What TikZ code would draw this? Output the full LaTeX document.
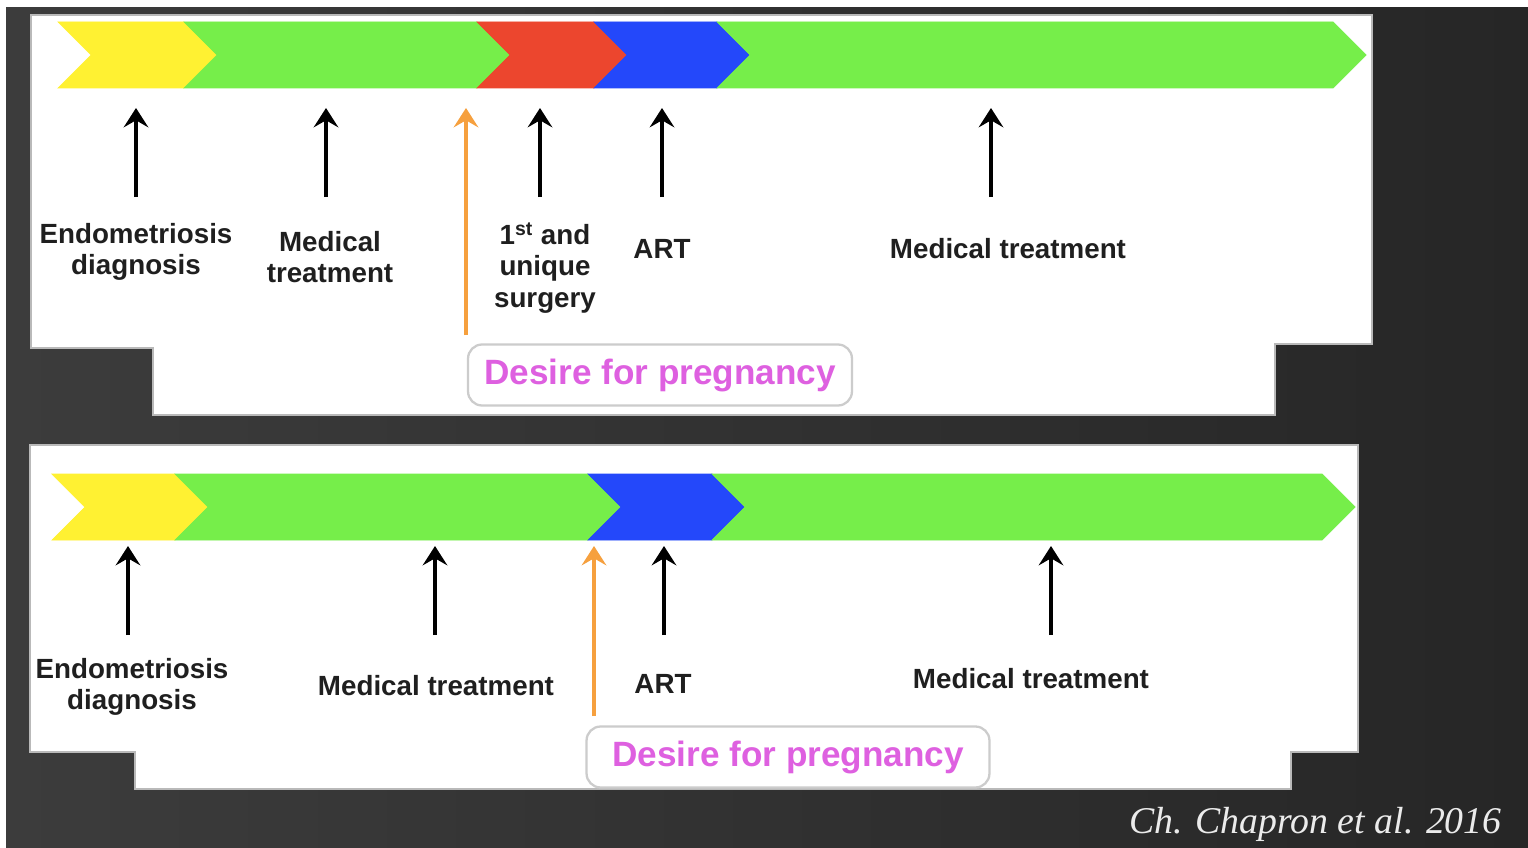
\documentclass[tikz,border=0pt]{standalone}
\usepackage{fontspec}
\setmainfont{Liberation Sans}
\newfontfamily\citefont{Liberation Serif}
\usetikzlibrary{arrows.meta,positioning}

\definecolor{barYellow}{RGB}{255,241,50}
\definecolor{barGreen}{RGB}{118,238,74}
\definecolor{barRed}{RGB}{236,70,46}
\definecolor{barBlue}{RGB}{36,72,250}
\definecolor{wishOrange}{RGB}{246,160,62}
\definecolor{wishPink}{RGB}{222,96,224}
\definecolor{slideDark}{RGB}{60,60,60}
\definecolor{slideDarker}{RGB}{38,38,38}

% one chevron of the timeline: colour, left x, right x (top corner), middle y
\newcommand{\chevron}[4]{%
  \fill[#1, draw=#1, line width=0.4pt] (#2,#4-33) -- (#3,#4-33) -- (#3+33,#4) -- (#3,#4+33)
    -- (#2,#4+33) -- (#2+33,#4) -- cycle;}

\begin{document}
\begin{tikzpicture}[
  x=0.02cm, y=-0.02cm,
  panel/.style={fill=white, draw=gray!55, line width=0.8pt},
  stage/.style={font=\fontsize{15.8}{18}\selectfont\bfseries, text=black!88, align=center, inner sep=0pt},
  marker/.style={line width=2.2pt, -{Stealth[length=11pt, width=14pt, inset=4pt]}},
  wish/.style={draw=gray!40, line width=1.3pt, rounded corners=8pt, fill=white, text=wishPink,
    font=\fontsize{20}{24}\selectfont\bfseries, minimum width=7.68cm, minimum height=1.22cm}
]
\useasboundingbox (0,0) rectangle (1528,848);
\fill[white] (0,0) rectangle (1528,848);

% Slide background
\shade[left color=slideDark, right color=slideDarker] (6,8) rectangle (1528,848);

% White panels
\draw[panel] (31,15) -- (1372,15) -- (1372,344) -- (1275,344) -- (1275,415)
  -- (153,415) -- (153,348) -- (31,348) -- cycle;
\draw[panel] (30,445) -- (1358,445) -- (1358,752) -- (1291,752) -- (1291,789)
  -- (135,789) -- (135,752) -- (30,752) -- cycle;

% Upper timeline
\chevron{barYellow}{58}{184}{55}
\chevron{barGreen}{184}{477}{55}
\chevron{barRed}{477}{594}{55}
\chevron{barBlue}{594}{717}{55}
\chevron{barGreen}{717}{1333}{55}

% Lower timeline
\chevron{barYellow}{52}{175}{507}
\chevron{barGreen}{175}{588}{507}
\chevron{barBlue}{588}{712}{507}
\chevron{barGreen}{712}{1322}{507}

% Upper labels
\node[stage] (diagA) at (136,252) {Endometriosis\\diagnosis};
\node[stage] (medA) at (330,257) {Medical\\treatment};
\node[stage] (surgA) at (545,268) {1\textsuperscript{st} and\\unique\\surgery};
\node[stage] (artA) at (662,249) {ART};
\node[stage] (medlongA) at (1008,249) {Medical treatment};
\node[wish] (wishA) at (660,375) {Desire for pregnancy};

% Upper arrows
\coordinate (diagAtail) at (136,197);  \coordinate (diagAtip) at (136,108);
\coordinate (medAtail) at (326,197);   \coordinate (medAtip) at (326,108);
\coordinate (surgAtail) at (540,197);  \coordinate (surgAtip) at (540,108);
\coordinate (artAtail) at (662,197);   \coordinate (artAtip) at (662,108);
\coordinate (medlongAtail) at (991,197); \coordinate (medlongAtip) at (991,108);
\coordinate (wishAtail) at (466,335);  \coordinate (wishAtip) at (466,108);
\draw[marker] (diagAtail) -- (diagAtip);
\draw[marker] (medAtail) -- (medAtip);
\draw[marker] (surgAtail) -- (surgAtip);
\draw[marker] (artAtail) -- (artAtip);
\draw[marker] (medlongAtail) -- (medlongAtip);
\draw[marker, wishOrange] (wishAtail) -- (wishAtip);

% Lower labels
\node[stage] (diagB) at (132,687) {Endometriosis\\diagnosis};
\node[stage] (medB) at (436,686) {Medical treatment};
\node[stage] (artB) at (663,684) {ART};
\node[stage] (medlongB) at (1031,679) {Medical treatment};
\node[wish, minimum width=8.06cm] (wishB) at (788,757) {Desire for pregnancy};

% Lower arrows
\coordinate (diagBtail) at (128,635);  \coordinate (diagBtip) at (128,546);
\coordinate (medBtail) at (435,635);   \coordinate (medBtip) at (435,546);
\coordinate (artBtail) at (664,635);   \coordinate (artBtip) at (664,546);
\coordinate (medlongBtail) at (1051,635); \coordinate (medlongBtip) at (1051,546);
\coordinate (wishBtail) at (594,716);  \coordinate (wishBtip) at (594,546);
\draw[marker] (diagBtail) -- (diagBtip);
\draw[marker] (medBtail) -- (medBtip);
\draw[marker] (artBtail) -- (artBtip);
\draw[marker] (medlongBtail) -- (medlongBtip);
\draw[marker, wishOrange] (wishBtail) -- (wishBtip);

% Reference
\node[anchor=east, text=white!92!black, font=\citefont\itshape\fontsize{21.5}{24}\selectfont, inner sep=0pt]
  (source) at (1502,824) {Ch. Chapron et al. 2016};

\end{tikzpicture}
\end{document}
